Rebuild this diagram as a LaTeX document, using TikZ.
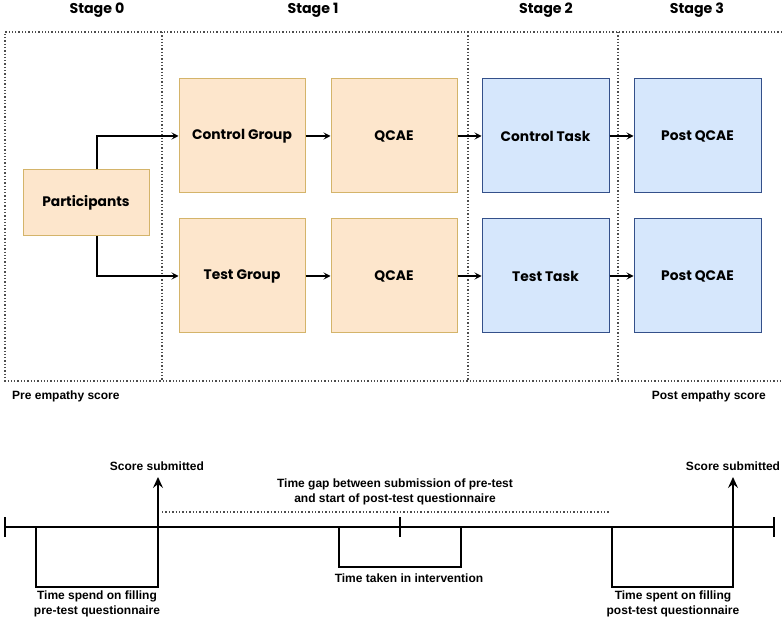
\documentclass[tikz,border=0pt]{standalone}
\usepackage{fontspec}
\setmainfont{Liberation Sans}
\newfontfamily\popfont{Poppins}
\usetikzlibrary{arrows.meta}
\definecolor{orfill}{HTML}{FDE6CC}
\definecolor{ordraw}{HTML}{D4B46A}
\definecolor{blfill}{HTML}{D6E7FC}
\definecolor{bldraw}{HTML}{34508A}
\tikzset{
  stagebox/.style={draw=ordraw, fill=orfill, line width=1pt, minimum width=126pt, minimum height=114pt, inner sep=0pt, font=\popfont\bfseries\fontsize{13.8}{16}\selectfont},
  taskbox/.style={draw=bldraw, fill=blfill, line width=1pt, minimum width=127pt, minimum height=114pt, inner sep=0pt, font=\popfont\bfseries\fontsize{13.8}{16}\selectfont},
  stagelabel/.style={font=\popfont\bfseries\fontsize{14.2}{16}\selectfont, inner sep=0pt},
  flow/.style={-{Stealth[length=7pt,width=7pt,inset=3pt]}, line width=1.2pt},
  frame/.style={dotted, line width=1.3pt, black!70},
  tline/.style={line width=2.8pt},
  note/.style={font=\bfseries\fontsize{12}{14.5}\selectfont, inner sep=0pt, align=center},
  up/.style={-{Stealth[length=11pt,width=10pt,inset=4pt]}, line width=1.6pt}
}
\begin{document}
\begin{tikzpicture}[x=1pt,y=-1pt]
\useasboundingbox (0,0) rectangle (782,620);

% stage frame
\draw[frame] (782,32) -- (5,32) -- (5,381) -- (782,381);
\draw[frame] (162,32) -- (162,381);
\draw[frame] (468,32) -- (468,381);
\draw[frame] (618,32) -- (618,381);

% stage headings
\node[stagelabel] (s0) at (97,10) {Stage 0};
\node[stagelabel] (s1) at (313,10) {Stage 1};
\node[stagelabel] (s2) at (546,10) {Stage 2};
\node[stagelabel] (s3) at (697,10) {Stage 3};

% boxes
\node[stagebox, minimum width=126pt, minimum height=66pt] (part) at (86,203) {Participants};
\node[stagebox] (cg) at (242,136) {Control Group};
\node[stagebox] (q1) at (394,136) {QCAE};
\node[taskbox] (ct) at (545.5,136) {Control Task};
\node[taskbox] (p1) at (697.5,136) {Post QCAE};
\node[stagebox] (tg) at (242,276) {Test Group};
\node[stagebox] (q2) at (394,276) {QCAE};
\node[taskbox] (tt) at (545.5,276) {Test Task};
\node[taskbox] (p2) at (697.5,276) {Post QCAE};

% flow arrows
\draw[flow] ([xshift=11pt]part.north) |- (cg.west);
\draw[flow] ([xshift=11pt]part.south) |- (tg.west);
\draw[flow] (cg) -- (q1);
\draw[flow] (q1) -- (ct);
\draw[flow] (ct) -- (p1);
\draw[flow] (tg) -- (q2);
\draw[flow] (q2) -- (tt);
\draw[flow] (tt) -- (p2);

% score labels
\node[note, anchor=west] (pre) at (12,396) {Pre empathy score};
\node[note, anchor=east] (post) at (766,396) {Post empathy score};

% timeline
\coordinate (tl) at (5,527);
\coordinate (tr) at (774,527);
\draw[tline] (tl) -- (tr);
\draw[tline] (5,517) -- (5,537);
\draw[tline] (774,517) -- (774,537);
\draw[tline] (400,517) -- (400,537);

% pre-test bracket
\draw[tline] (36,527) -- (36,587) -- (158,587) -- (158,527);
\coordinate (a1) at (158,527);
\coordinate (a1t) at (158,477);
\draw[up] (a1) -- (a1t);
\node[note] (ss1) at (157,466) {Score submitted};
\node[note] (fill1) at (97,604) {Time spend on filling\\pre-test questionnaire};

% intervention bracket
\draw[tline] (339,527) -- (339,567) -- (461,567) -- (461,527);
\node[note] (iv) at (409,578) {Time taken in intervention};

% post-test bracket
\draw[tline] (612,527) -- (612,587) -- (733,587) -- (733,527);
\coordinate (a2) at (733,527);
\coordinate (a2t) at (733,477);
\draw[up] (a2) -- (a2t);
\node[note] (ss2) at (733,466) {Score submitted};
\node[note] (fill2) at (673,604) {Time spent on filling\\post-test questionnaire};

% gap between questionnaires
\draw[dotted, line width=1.4pt, black!70] (162,512) -- (610,512);
\node[note] (gap) at (395,492) {Time gap between submission of pre-test\\and start of post-test questionnaire};
\end{tikzpicture}
\end{document}
